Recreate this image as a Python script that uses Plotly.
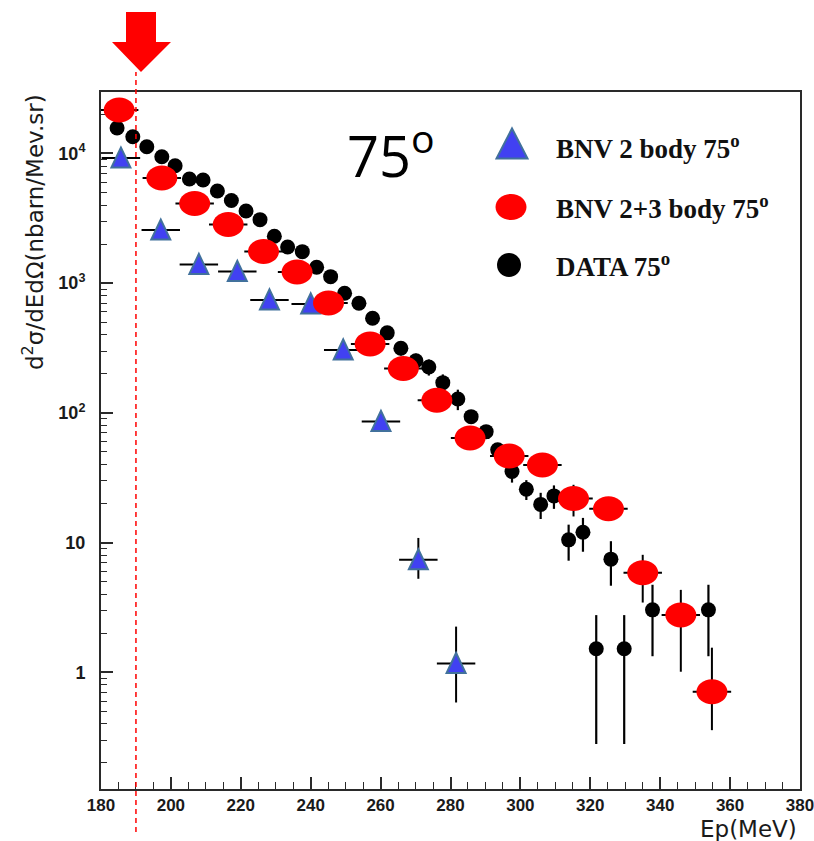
import plotly.graph_objects as go

# ---------------- data ----------------
# measured proton spectrum at 75 degrees
data_ep = [184.6, 189.1, 193.1, 197.4, 201.2, 205.3, 209.2, 213.3, 217.3, 221.5,
           225.5, 229.6, 233.4, 237.6, 241.7, 245.7, 249.7, 253.8, 257.7, 261.9,
           265.8, 270.1, 273.8, 277.8, 282.1, 285.9, 290.2, 293.5, 297.6, 301.7,
           305.8, 309.6, 313.8, 317.9, 321.7, 325.9, 329.7, 337.8, 353.8]
data_xs = [15700, 13460, 11270, 9440, 8050, 6360, 6250, 5140, 4345, 3605,
           3090, 2300, 1900, 1750, 1327, 1123, 837, 700, 537, 414,
           315, 252, 226, 171, 128, 93.5, 71.7, 51.9, 35.3, 25.8,
           19.7, 22.9, 10.5, 12.0, 1.52, 7.45, 1.52, 3.03, 3.03]
data_err = [300, 280, 250, 230, 210, 190, 190, 170, 150, 140,
            130, 110, 100, 95, 80, 75, 65, 60, 50, 45,
            38, 34, 32, 27, 23, 7.5, 6.5, 5.2, 6.3, 4.5,
            4.5, 4.7, 3.25, 3.5, 1.24, 2.8, 1.24, 1.7, 1.7]

# BNV calculation, two-body only
bnv2_ep = [185.7, 197.1, 208.0, 219.0, 228.2, 240.0, 249.3, 260.1, 270.8, 281.6]
bnv2_xs = [9230, 2570, 1395, 1233, 743, 692, 306, 86, 7.36, 1.17]
bnv2_err_up = [300, 130, 90, 80, 60, 55, 30, 12, 3.5, 1.08]
bnv2_err_dn = [300, 130, 90, 80, 60, 55, 30, 12, 2.1, 0.585]
bnv2_half_bin = 5.5

# BNV calculation, two- plus three-body
bnv23_ep = [185.2, 197.4, 206.8, 216.4, 226.5, 236.1, 245.1, 257.0, 266.5, 276.1,
            285.6, 296.8, 306.3, 315.2, 325.2, 335.0, 345.9, 354.8]
bnv23_xs = [21600, 6470, 4120, 2840, 1757, 1222, 704, 340, 220, 125,
            64, 46.6, 39.7, 21.9, 18.2, 5.85, 2.77, 0.708]
bnv23_err_up = [700, 250, 170, 120, 80, 60, 35, 20, 14, 9,
                5, 4, 3.8, 6, 3, 2.2, 1.55, 0.84]
bnv23_err_dn = [700, 250, 170, 120, 80, 60, 35, 20, 14, 9,
                5, 4, 3.8, 6, 3, 2.4, 1.76, 0.35]
bnv23_half_bin = 5.5

THRESHOLD_EP = 190

x_tickvals = [180, 200, 220, 240, 260, 280, 300, 320, 340, 360, 380]
y_tickvals = [1, 10, 100, 1000, 10000]
y_ticktext = ["1", "10", "10<sup>2</sup>", "10<sup>3</sup>", "10<sup>4</sup>"]
y_minor_tickvals = [m * 10 ** d for d in range(-1, 5) for m in range(2, 10)]

legend_labels = ["BNV 2 body 75<sup>o</sup>",
                 "BNV 2+3 body 75<sup>o</sup>",
                 "DATA 75<sup>o</sup>"]
angle_label = "75<sup>o</sup>"
x_title = "Ep(MeV)"
y_title = "d<sup>2</sup>σ/dEdΩ(nbarn/Mev.sr)"

# ---------------- layout geometry ----------------
W, H = 814, 841
ML, MR, MT, MB = 101, 14, 92, 52
PW, PH = W - ML - MR, H - MT - MB
Y_RANGE = [-0.8998, 4.474]


def fx(px):
    """page pixel column -> paper x"""
    return (px - ML) / PW


def fy(py):
    """page pixel row -> paper y"""
    return (H - MB - py) / PH


AXIS = "#2a2a2a"
TRI_FILL = "#4141f2"
TRI_EDGE = "#41719c"
RED = "#ff0000"

fig = go.Figure()

# measured points with statistical errors
fig.add_trace(go.Scatter(
    x=data_ep, y=data_xs, mode="markers", name="DATA",
    marker=dict(size=15, color="black"),
    error_y=dict(type="data", array=data_err, color="black", thickness=2.2, width=0),
    showlegend=False,
))

# error bars of the two calculations (glyphs are drawn as shapes on top)
fig.add_trace(go.Scatter(
    x=bnv2_ep, y=bnv2_xs, mode="markers", name="BNV 2 body",
    marker=dict(size=2, color="rgba(0,0,0,0)"),
    error_x=dict(type="constant", value=bnv2_half_bin, color="black", thickness=2, width=0),
    error_y=dict(type="data", symmetric=False, array=bnv2_err_up, arrayminus=bnv2_err_dn,
                 color="black", thickness=2, width=0),
    showlegend=False,
))
fig.add_trace(go.Scatter(
    x=bnv23_ep, y=bnv23_xs, mode="markers", name="BNV 2+3 body",
    marker=dict(size=2, color="rgba(0,0,0,0)"),
    error_x=dict(type="constant", value=bnv23_half_bin, color="black", thickness=2, width=0),
    error_y=dict(type="data", symmetric=False, array=bnv23_err_up, arrayminus=bnv23_err_dn,
                 color="black", thickness=2, width=0),
    showlegend=False,
))

shapes = []


def triangle(xref, yref, xa, ya, hw, hb, ht):
    return dict(type="path", xref=xref, yref=yref,
                xsizemode="pixel", ysizemode="pixel", xanchor=xa, yanchor=ya,
                path=f"M {-hw} {-hb} L {hw} {-hb} L 0 {ht} Z",
                fillcolor=TRI_FILL, line=dict(color=TRI_EDGE, width=2), layer="above")


def ellipse(xref, yref, xa, ya, rx, ry, color):
    k = 0.5523
    p = (f"M {rx} 0 "
         f"C {rx} {k * ry:.3f} {k * rx:.3f} {ry} 0 {ry} "
         f"C {-k * rx:.3f} {ry} {-rx} {k * ry:.3f} {-rx} 0 "
         f"C {-rx} {-k * ry:.3f} {-k * rx:.3f} {-ry} 0 {-ry} "
         f"C {k * rx:.3f} {-ry} {rx} {-k * ry:.3f} {rx} 0 Z")
    return dict(type="path", xref=xref, yref=yref,
                xsizemode="pixel", ysizemode="pixel", xanchor=xa, yanchor=ya,
                path=p, fillcolor=color, line=dict(width=0), layer="above")


# two-body triangles
for e, v in zip(bnv2_ep, bnv2_xs):
    shapes.append(triangle("x", "y", e, v, 9.5, 9.5, 10.5))
# two+three body ellipses
for e, v in zip(bnv23_ep, bnv23_xs):
    shapes.append(ellipse("x", "y", e, v, 15.5, 12.5, RED))

# threshold marker: dashed line and block arrow
shapes.append(dict(type="line", xref="x", yref="paper",
                   x0=THRESHOLD_EP, x1=THRESHOLD_EP, y0=fy(832), y1=fy(72),
                   line=dict(color=RED, width=1.5, dash="5px,4px"), layer="above"))
arrow_px = [(126, 12), (156, 12), (156, 42), (171, 42), (141, 72), (112, 42), (126, 42)]
arrow_path = "M " + " L ".join(f"{fx(a):.5f} {fy(b):.5f}" for a, b in arrow_px) + " Z"
shapes.append(dict(type="path", xref="paper", yref="paper", path=arrow_path,
                   fillcolor=RED, line=dict(width=0), layer="above"))

# legend glyphs
shapes.append(triangle("paper", "paper", fx(512), fy(144), 15.5, 14.5, 15.5))
shapes.append(ellipse("paper", "paper", fx(511), fy(207), 15.5, 13, RED))
shapes.append(ellipse("paper", "paper", fx(509), fy(265), 12, 12, "black"))

annotations = []
for label, py in zip(legend_labels, [147, 207, 265]):
    annotations.append(dict(
        text=label, x=fx(554), y=fy(py), xref="paper", yref="paper",
        xanchor="left", yanchor="middle", showarrow=False,
        font=dict(family="Liberation Serif", size=27, color="#111", weight="bold"),
    ))
annotations.append(dict(
    text=angle_label, x=fx(345), y=fy(152), xref="paper", yref="paper",
    xanchor="left", yanchor="middle", showarrow=False,
    font=dict(family="Open Sans", size=56, color="black"),
))
annotations.append(dict(
    text=y_title, x=fx(33), y=fy(232), xref="paper", yref="paper",
    xanchor="center", yanchor="middle", textangle=-90, showarrow=False,
    font=dict(family="DejaVu Sans", size=23, color="#1a1a1a"),
))
annotations.append(dict(
    text=x_title, x=fx(799), y=fy(829), xref="paper", yref="paper",
    xanchor="right", yanchor="middle", showarrow=False,
    font=dict(family="DejaVu Sans", size=23, color="#1a1a1a"),
))

fig.update_layout(
    width=W, height=H,
    margin=dict(l=ML, r=MR, t=MT, b=MB, pad=0, autoexpand=False),
    paper_bgcolor="white", plot_bgcolor="white",
    showlegend=False,
    shapes=shapes, annotations=annotations,
    xaxis=dict(
        range=[179.999, 380.001], tickmode="array", tickvals=x_tickvals,
        ticks="inside", ticklen=12, tickwidth=1.5, tickcolor=AXIS,
        minor=dict(dtick=5, tick0=180, ticks="inside", ticklen=7, tickwidth=1.2,
                   tickcolor=AXIS, showgrid=False),
        showline=True, linecolor=AXIS, linewidth=2, mirror=True,
        showgrid=False, zeroline=False, automargin=False,
        tickfont=dict(family="Liberation Sans", size=17, color="#1a1a1a", weight="bold"),
        ticklabelstandoff=0, ticklabeloverflow="allow",
    ),
    yaxis=dict(
        type="log", range=Y_RANGE,
        tickmode="array", tickvals=y_tickvals, ticktext=y_ticktext,
        ticks="inside", ticklen=12, tickwidth=1.5, tickcolor=AXIS,
        minor=dict(tickmode="array", tickvals=y_minor_tickvals, ticks="inside",
                   ticklen=6, tickwidth=1.2, tickcolor=AXIS, showgrid=False),
        showline=True, linecolor=AXIS, linewidth=2, mirror=True,
        showgrid=False, zeroline=False, automargin=False,
        tickfont=dict(family="Liberation Sans", size=18, color="#1a1a1a", weight="bold"),
        ticklabelstandoff=10,
    ),
)

fig.write_html("out.html")
